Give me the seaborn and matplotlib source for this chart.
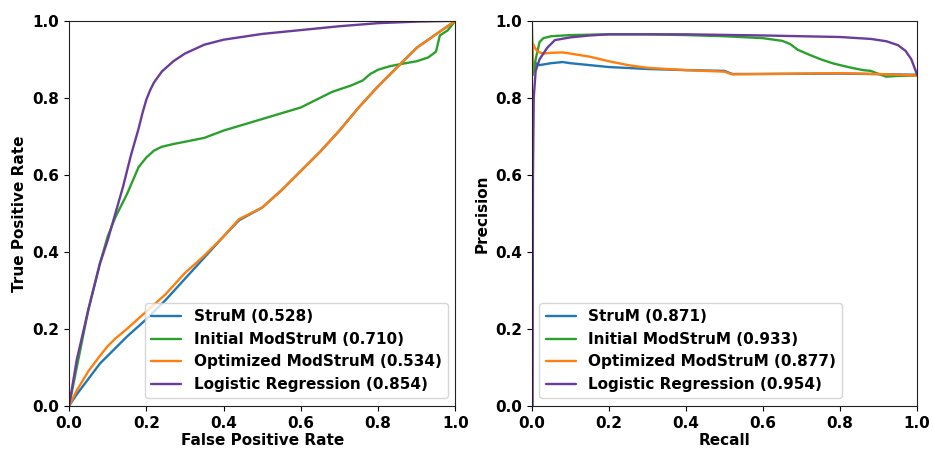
import matplotlib
matplotlib.use("Agg")
import matplotlib.pyplot as plt
import seaborn as sns
import pandas as pd

sns.set_style("ticks")
plt.rcParams['font.family'] = ['DejaVu Sans']
plt.rcParams['font.weight'] = 'bold'
plt.rcParams['axes.labelweight'] = 'bold'
for k in ['text.color', 'axes.labelcolor', 'xtick.color', 'ytick.color']:
    plt.rcParams[k] = 'black'

names = ["StruM", "Initial ModStruM", "Optimized ModStruM", "Logistic Regression"]
roc_auc = [0.528, 0.710, 0.534, 0.854]
pr_auc = [0.871, 0.933, 0.877, 0.954]
colors = ["#1f77b4", "#2ca02c", "#ff7f0e", "#6a3d9a"]

# ROC curves
strum_fpr = [0, 0.02, 0.05, 0.08, 0.1, 0.12, 0.15, 0.2, 0.25, 0.3, 0.35, 0.4, 0.44, 0.5, 0.55, 0.6, 0.65, 0.7, 0.75, 0.8, 0.85, 0.9, 0.95, 1.0]
strum_tpr = [0, 0.03, 0.07, 0.11, 0.13, 0.15, 0.18, 0.225, 0.275, 0.33, 0.385, 0.44, 0.482, 0.515, 0.56, 0.61, 0.66, 0.715, 0.775, 0.83, 0.88, 0.93, 0.965, 1.0]
init_fpr = [0, 0.02, 0.05, 0.08, 0.1, 0.12, 0.15, 0.18, 0.2, 0.22, 0.24, 0.27, 0.3, 0.35, 0.4, 0.45, 0.5, 0.55, 0.6, 0.63, 0.65, 0.68, 0.7, 0.73, 0.76, 0.78, 0.8, 0.83, 0.86, 0.9, 0.93, 0.95, 0.96, 0.98, 1.0]
init_tpr = [0, 0.1, 0.25, 0.37, 0.44, 0.49, 0.55, 0.62, 0.645, 0.663, 0.673, 0.68, 0.686, 0.696, 0.715, 0.73, 0.745, 0.76, 0.775, 0.79, 0.80, 0.815, 0.822, 0.832, 0.845, 0.862, 0.873, 0.882, 0.888, 0.895, 0.905, 0.92, 0.962, 0.975, 1.0]
opt_fpr = [0, 0.02, 0.05, 0.08, 0.1, 0.12, 0.15, 0.2, 0.25, 0.3, 0.35, 0.4, 0.44, 0.5, 0.55, 0.6, 0.65, 0.7, 0.75, 0.8, 0.85, 0.9, 0.95, 1.0]
opt_tpr = [0, 0.04, 0.09, 0.13, 0.155, 0.175, 0.2, 0.245, 0.29, 0.345, 0.39, 0.44, 0.485, 0.515, 0.56, 0.61, 0.66, 0.715, 0.775, 0.83, 0.88, 0.93, 0.965, 1.0]
lr_fpr = [0, 0.02, 0.05, 0.08, 0.1, 0.12, 0.14, 0.16, 0.18, 0.19, 0.2, 0.21, 0.22, 0.24, 0.27, 0.3, 0.35, 0.4, 0.5, 0.6, 0.7, 0.8, 0.9, 1.0]
lr_tpr = [0, 0.12, 0.25, 0.37, 0.43, 0.50, 0.57, 0.65, 0.72, 0.76, 0.795, 0.82, 0.84, 0.868, 0.895, 0.915, 0.938, 0.951, 0.966, 0.976, 0.986, 0.994, 0.998, 1.0]

# PR curves
strum_rec = [0.0, 0.005, 0.01, 0.02, 0.05, 0.08, 0.1, 0.15, 0.2, 0.3, 0.4, 0.5, 0.52, 0.6, 0.8, 1.0]
strum_prec = [0.86, 0.87, 0.89, 0.885, 0.89, 0.893, 0.89, 0.885, 0.88, 0.875, 0.872, 0.87, 0.862, 0.862, 0.863, 0.86]
init_rec = [0.0, 0.003, 0.01, 0.02, 0.03, 0.05, 0.1, 0.2, 0.3, 0.4, 0.5, 0.6, 0.65, 0.67, 0.69, 0.72, 0.75, 0.78, 0.8, 0.83, 0.86, 0.88, 0.9, 0.92, 0.95, 1.0]
init_prec = [1.0, 0.86, 0.9, 0.945, 0.955, 0.96, 0.963, 0.965, 0.965, 0.963, 0.96, 0.955, 0.948, 0.94, 0.925, 0.912, 0.9, 0.89, 0.885, 0.878, 0.872, 0.87, 0.862, 0.855, 0.857, 0.858]
opt_rec = [0.0, 0.003, 0.008, 0.015, 0.03, 0.05, 0.08, 0.1, 0.15, 0.2, 0.25, 0.3, 0.35, 0.4, 0.5, 0.52, 0.6, 0.7, 0.8, 0.9, 1.0]
opt_prec = [0.85, 0.94, 0.93, 0.92, 0.915, 0.917, 0.918, 0.915, 0.907, 0.895, 0.885, 0.878, 0.875, 0.872, 0.868, 0.861, 0.862, 0.863, 0.864, 0.862, 0.858]
lr_rec = [0.002, 0.003, 0.005, 0.01, 0.02, 0.04, 0.06, 0.1, 0.15, 0.2, 0.4, 0.6, 0.8, 0.88, 0.92, 0.95, 0.97, 0.985, 1.0]
lr_prec = [0.0, 0.6, 0.8, 0.87, 0.9, 0.93, 0.95, 0.957, 0.962, 0.965, 0.965, 0.962, 0.958, 0.953, 0.947, 0.937, 0.922, 0.9, 0.86]

roc_x = [strum_fpr, init_fpr, opt_fpr, lr_fpr]
roc_y = [strum_tpr, init_tpr, opt_tpr, lr_tpr]
pr_x = [strum_rec, init_rec, opt_rec, lr_rec]
pr_y = [strum_prec, init_prec, opt_prec, lr_prec]

def build(xs, ys, aucs):
    rows = []
    labels = []
    for n, a, xv, yv in zip(names, aucs, xs, ys):
        lab = f"{n} ({a:.3f})"
        labels.append(lab)
        for i, (x, y) in enumerate(zip(xv, yv)):
            rows.append({"x": x, "y": y, "model": lab, "order": i})
    return pd.DataFrame(rows), labels

fig = plt.figure(figsize=(9.33, 4.53), dpi=100)
ax1 = fig.add_axes([0.074, 0.104, 0.414, 0.850])
ax2 = fig.add_axes([0.570, 0.104, 0.413, 0.850])

for ax, xs, ys, aucs, xl, yl, loc in [
    (ax1, roc_x, roc_y, roc_auc, "False Positive Rate", "True Positive Rate", "lower right"),
    (ax2, pr_x, pr_y, pr_auc, "Recall", "Precision", "lower left"),
]:
    df, labels = build(xs, ys, aucs)
    sns.lineplot(data=df, x="x", y="y", hue="model", hue_order=labels,
                 palette=dict(zip(labels, colors)), sort=False, estimator=None,
                 units="model", lw=1.7, ax=ax)
    ax.set_xlim(0, 1)
    ax.set_ylim(0, 1)
    ax.set_xlabel(xl, fontsize=11, fontweight='bold', labelpad=2)
    ax.set_ylabel(yl, fontsize=11, fontweight='bold')
    ax.tick_params(labelsize=11, color='black')
    for t in ax.get_xticklabels() + ax.get_yticklabels():
        t.set_fontweight('bold')
    for s in ax.spines.values():
        s.set_color("#222222")
    leg = ax.legend(loc=loc, fontsize=11, frameon=True, borderaxespad=0.5)
    leg.set_title(None)
    for t in leg.get_texts():
        t.set_fontweight('bold')
        t.set_color('black')

fig.savefig("out.png", dpi=100)
